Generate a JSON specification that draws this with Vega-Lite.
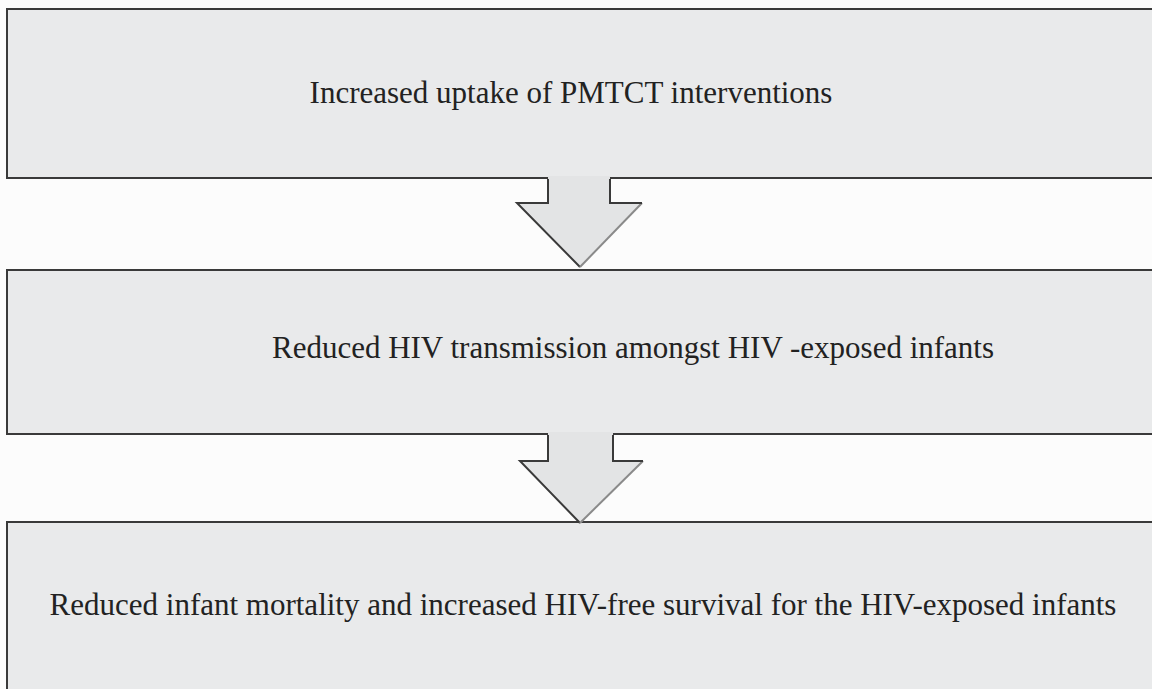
{
  "$schema": "https://vega.github.io/schema/vega-lite/v6.json",
  "width": 1152,
  "height": 689,
  "autosize": {"type": "fit", "contains": "padding"},
  "padding": 0,
  "background": "#fcfcfc",
  "config": {"view": {"stroke": null}},
  "datasets": {
    "boxes": [
      {"box": "Step 1", "x": 7, "x2": 1170, "y": 9, "y2": 178},
      {"box": "Step 2", "x": 7, "x2": 1170, "y": 270, "y2": 434},
      {"box": "Step 3", "x": 7, "x2": 1170, "y": 522, "y2": 720}
    ],
    "arrowFill": [
      {"arrow": "A1", "x": 517, "top": 203, "bottom": 203},
      {"arrow": "A1", "x": 548, "top": 203, "bottom": 234.5},
      {"arrow": "A1", "x": 548.01, "top": 176, "bottom": 234.5},
      {"arrow": "A1", "x": 580, "top": 176, "bottom": 267},
      {"arrow": "A1", "x": 609.99, "top": 176, "bottom": 236},
      {"arrow": "A1", "x": 610, "top": 203, "bottom": 236},
      {"arrow": "A1", "x": 642, "top": 203, "bottom": 203},
      {"arrow": "A2", "x": 520, "top": 461, "bottom": 461},
      {"arrow": "A2", "x": 548, "top": 461, "bottom": 488},
      {"arrow": "A2", "x": 548.01, "top": 432, "bottom": 488},
      {"arrow": "A2", "x": 580, "top": 432, "bottom": 523},
      {"arrow": "A2", "x": 612.99, "top": 432, "bottom": 492},
      {"arrow": "A2", "x": 613, "top": 461, "bottom": 492},
      {"arrow": "A2", "x": 643, "top": 461, "bottom": 461}
    ],
    "arrowEdges": [
      {"seg": "A1 left", "tone": "dark", "o": 1, "x": 548, "y": 179},
      {"seg": "A1 left", "tone": "dark", "o": 2, "x": 548, "y": 203},
      {"seg": "A1 left", "tone": "dark", "o": 3, "x": 517, "y": 203},
      {"seg": "A1 left", "tone": "dark", "o": 4, "x": 580, "y": 267},
      {"seg": "A1 diag", "tone": "light", "o": 1, "x": 580, "y": 267},
      {"seg": "A1 diag", "tone": "light", "o": 2, "x": 642, "y": 203},
      {"seg": "A1 right", "tone": "dark", "o": 1, "x": 642, "y": 203},
      {"seg": "A1 right", "tone": "dark", "o": 2, "x": 610, "y": 203},
      {"seg": "A1 right", "tone": "dark", "o": 3, "x": 610, "y": 179},
      {"seg": "A2 left", "tone": "dark", "o": 1, "x": 548, "y": 435},
      {"seg": "A2 left", "tone": "dark", "o": 2, "x": 548, "y": 461},
      {"seg": "A2 left", "tone": "dark", "o": 3, "x": 520, "y": 461},
      {"seg": "A2 left", "tone": "dark", "o": 4, "x": 580, "y": 523},
      {"seg": "A2 diag", "tone": "light", "o": 1, "x": 580, "y": 523},
      {"seg": "A2 diag", "tone": "light", "o": 2, "x": 643, "y": 461},
      {"seg": "A2 right", "tone": "dark", "o": 1, "x": 643, "y": 461},
      {"seg": "A2 right", "tone": "dark", "o": 2, "x": 613, "y": 461},
      {"seg": "A2 right", "tone": "dark", "o": 3, "x": 613, "y": 435}
    ],
    "labels": [
      {"text": "Increased uptake of PMTCT interventions", "x": 571, "y": 103},
      {"text": "Reduced HIV transmission amongst HIV -exposed infants", "x": 633, "y": 358},
      {"text": "Reduced infant mortality and increased HIV-free survival for the HIV-exposed infants", "x": 583, "y": 615}
    ]
  },
  "layer": [
    {
      "data": {"name": "boxes"},
      "mark": {"type": "rect", "fill": "#e9eaeb", "stroke": "#3a3a3a", "strokeWidth": 2, "clip": true},
      "encoding": {
        "x": {"field": "x", "type": "quantitative", "scale": {"domain": [0, 1152]}, "axis": null},
        "x2": {"field": "x2"},
        "y": {"field": "y", "type": "quantitative", "scale": {"domain": [689, 0]}, "axis": null},
        "y2": {"field": "y2"}
      }
    },
    {
      "data": {"name": "arrowFill"},
      "mark": {"type": "area", "fill": "#e3e4e5", "stroke": null, "interpolate": "linear", "orient": "vertical"},
      "encoding": {
        "x": {"field": "x", "type": "quantitative", "scale": {"domain": [0, 1152]}, "axis": null},
        "y": {"field": "top", "type": "quantitative", "scale": {"domain": [689, 0]}, "axis": null},
        "y2": {"field": "bottom"},
        "detail": {"field": "arrow"}
      }
    },
    {
      "data": {"name": "arrowEdges"},
      "mark": {"type": "line", "strokeWidth": 2},
      "encoding": {
        "x": {"field": "x", "type": "quantitative", "scale": {"domain": [0, 1152]}, "axis": null},
        "y": {"field": "y", "type": "quantitative", "scale": {"domain": [689, 0]}, "axis": null},
        "order": {"field": "o", "type": "quantitative"},
        "detail": {"field": "seg"},
        "color": {"field": "tone", "type": "nominal", "scale": {"domain": ["dark", "light"], "range": ["#3a3a3a", "#8a8a8a"]}, "legend": null}
      }
    },
    {
      "data": {"name": "labels"},
      "mark": {"type": "text", "font": "Liberation Serif", "fontSize": 31, "color": "#222222", "align": "center", "baseline": "alphabetic"},
      "encoding": {
        "x": {"field": "x", "type": "quantitative", "scale": {"domain": [0, 1152]}, "axis": null},
        "y": {"field": "y", "type": "quantitative", "scale": {"domain": [689, 0]}, "axis": null},
        "text": {"field": "text"}
      }
    }
  ]
}
